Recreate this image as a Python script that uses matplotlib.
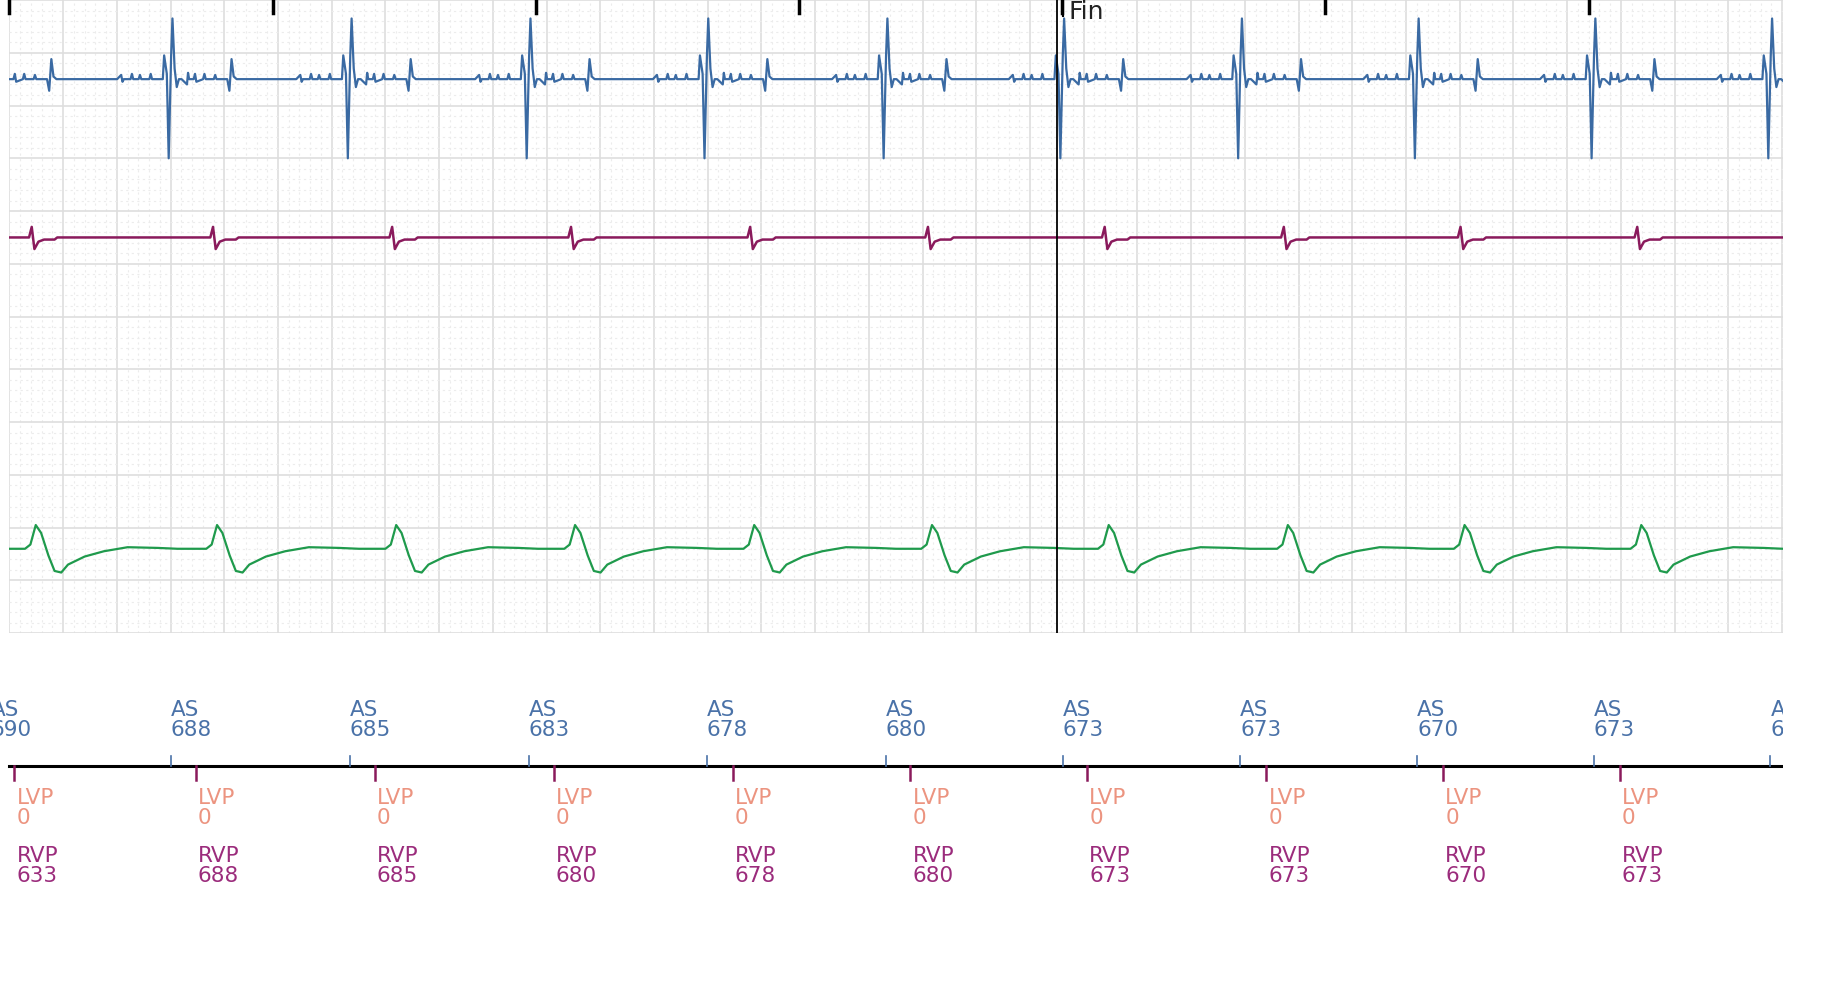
import numpy as np
import matplotlib
matplotlib.use("Agg")
import matplotlib.pyplot as plt

# ---- event data (ms) ----
as_times = [-70, 601, 1268, 1934, 2596, 3263, 3921, 4583, 5241, 5899, 6557]
as_labels = ["690", "688", "685", "683", "678", "680", "673", "673", "670", "673", "670"]
v_times = [18, 693, 1360, 2026, 2693, 3355, 4013, 4680, 5338, 5996]
lvp_labels = ["0"] * 10
rvp_labels = ["633", "688", "685", "680", "678", "680", "673", "673", "670", "673"]
top_ticks = [0, 980, 1960, 2940, 3920, 4900, 5880]
fin_time = 3899
t_end = 6605

# ---- waveform templates (offset ms, amplitude in grid rows, + = up) ----
blue_off = [-200, -185, -180, -175, -150, -145, -140, -120, -115, -110, -80, -75, -70, -30, -25, -15,
            -8, 0, 6, 14, 22, 30, 40, 60, 64, 68, 85, 90, 95, 120, 125, 130, 160, 165, 170, 210,
            218, 226, 234, 245, 300]
blue_amp = [0, 0.08, -0.05, 0, 0, 0.1, 0, 0, 0.08, 0, 0, 0.1, 0, 0, 0.45, 0.1,
            -1.5, 0.3, 1.15, 0.2, -0.15, 0, 0, -0.1, 0.12, 0, 0, 0.1, -0.05, 0, 0.1, 0, 0, 0.08, 0, 0,
            -0.22, 0.38, 0.05, 0, 0]
purple_off = [0, 55, 65, 75, 90, 110, 150, 160]
purple_amp = [0, 0, 0.2, -0.22, -0.08, -0.04, -0.04, 0]
green_off = [0, 40, 60, 80, 100, 125, 150, 175, 200, 260, 330, 420, 520, 600]
green_amp = [0, 0, 0.08, 0.45, 0.3, -0.1, -0.42, -0.45, -0.3, -0.15, -0.05, 0.03, 0.02, 0]

blue_base, purple_base, green_base = 1.5, 4.5, 10.4
n_rows = 12

t = np.arange(0, t_end + 1, 1.0)

def build(events, off, amp, base):
    y = np.zeros_like(t)
    for e in events:
        y += np.interp(t, np.array(off) + e, amp, left=0, right=0)
    return base - y

blue = build(as_times, blue_off, blue_amp, blue_base)
purple = build(v_times, purple_off, purple_amp, purple_base)
green = build(v_times, green_off, green_amp, green_base)

W, H = 1827, 1007
fig = plt.figure(figsize=(W / 100, H / 100), dpi=100)
left, right = 8 / 1549, 1512 / 1549
gbot = 1 - 537 / 854
ax = fig.add_axes([left, gbot, right - left, 1 - gbot])
ax.set_xlim(0, t_end)
ax.set_ylim(n_rows, 0)
for s in ax.spines.values():
    s.set_visible(False)
ax.set_xticks([]); ax.set_yticks([])

for x in np.arange(0, t_end + 1, 40):
    if x % 200 == 0:
        ax.axvline(x, color="#dedede", lw=1.2, zorder=0)
    else:
        ax.axvline(x, color="#ececec", lw=0.8, ls=(0, (2, 3)), zorder=0)
for y in np.arange(0, n_rows + 0.01, 0.2):
    if abs(y - round(y)) < 1e-6:
        ax.axhline(y, color="#dedede", lw=1.2, zorder=0)
    else:
        ax.axhline(y, color="#ececec", lw=0.8, ls=(0, (2, 3)), zorder=0)

ax.plot(t, blue, color="#3a6aa3", lw=1.6, zorder=3)
ax.plot(t, purple, color="#8a1a5c", lw=1.8, zorder=3)
ax.plot(t, green, color="#1f9a4c", lw=1.6, zorder=3)

for tt in top_ticks:
    ax.plot([tt, tt], [0, 0.25], color="black", lw=2.5, zorder=4, clip_on=False)
ax.axvline(fin_time, color="black", lw=1.3, zorder=5)
ax.plot([fin_time + 25, fin_time + 25], [0, 0.3], color="black", lw=1.5, zorder=5)
ax.text(fin_time + 45, 0.0, "Fin", fontsize=18, va="top", ha="left", color="#222222", zorder=6)

# marker axis: spans from figure left edge to the plot right edge, texts clipped to it
pxms = (right - left) * W / t_end
x0 = -(left * W) / pxms
h2 = 1 - 537 / 854 - 0.02
ax2 = fig.add_axes([0, 0, right, h2])
ax2.set_xlim(x0, t_end)
ax2.set_ylim(0, h2 * H)
for s in ax2.spines.values():
    s.set_visible(False)
ax2.set_xticks([]); ax2.set_yticks([])
ax2.patch.set_alpha(0)
ly = (1 - 650 / 854) * H
ax2.plot([0, t_end], [ly, ly], color="black", lw=2.2)
sc = 1.18
fs = 15.5
for tt, lab in zip(as_times, as_labels):
    ax2.plot([tt, tt], [ly, ly + 10], color="#4a72a8", lw=1.2)
    ax2.text(tt, ly + (650 - 628) * sc, "AS\n" + lab, color="#4a72a8", fontsize=fs,
             ha="left", va="bottom", linespacing=1.05, clip_on=True)
for tt, l1, l2 in zip(v_times, lvp_labels, rvp_labels):
    ax2.plot([tt, tt], [ly, ly - 14], color="#8a1a5c", lw=1.8)
    ax2.text(tt + 8, ly - (668 - 650) * sc, "LVP\n" + l1, color="#ec9480", fontsize=fs,
             ha="left", va="top", linespacing=1.05, clip_on=True)
    ax2.text(tt + 8, ly - (717 - 650) * sc, "RVP\n" + l2, color="#9b2c7c", fontsize=fs,
             ha="left", va="top", linespacing=1.05, clip_on=True)

fig.savefig("out.png", dpi=100)
